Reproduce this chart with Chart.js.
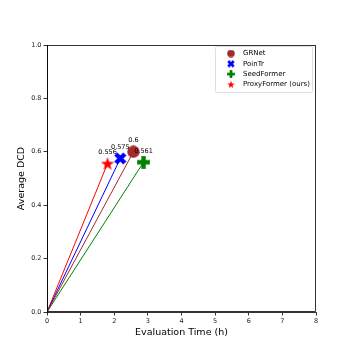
<!DOCTYPE html>
<html><head><meta charset="utf-8">
<script src="https://cdn.jsdelivr.net/npm/chart.js@4.4.0/dist/chart.umd.min.js"></script>
<style>html,body{margin:0;padding:0;background:#fff}#w{width:354px;height:354px}</style>
</head><body><div id="w"><canvas id="c" width="354" height="354"></canvas></div>
<script>
const methods = ["GRNet", "PoinTr", "SeedFormer", "ProxyFormer (ours)"];
const evalTime = [2.57, 2.18, 2.87, 1.80];
const avgDCD = [0.6, 0.575, 0.561, 0.556];
const valueLabels = ["0.6", "0.575", "0.561", "0.556"];
const colors = ["#a52a2a", "#0000ff", "#008000", "#ff0000"];
const markers = ["circle", "x", "plus", "star"];
const xTicks = [0,1,2,3,4,5,6,7,8];
const yTicks = [0.0,0.2,0.4,0.6,0.8,1.0];

function makeMarker(type, color, s) {
  const c = document.createElement('canvas');
  c.width = s; c.height = s;
  const g = c.getContext('2d');
  g.fillStyle = color;
  const h = s/2;
  g.translate(h, h);
  if (type === 'circle') {
    g.beginPath(); g.arc(0,0,h*0.95,0,Math.PI*2); g.fill();
  } else if (type === 'plus' || type === 'x') {
    if (type === 'x') g.rotate(Math.PI/4);
    const a = h*0.98, b = h*0.34;
    g.fillRect(-a,-b,2*a,2*b);
    g.fillRect(-b,-a,2*b,2*a);
  } else if (type === 'star') {
    g.beginPath();
    for (let i=0;i<10;i++){
      const r = i%2===0 ? h : h*0.4;
      const ang = -Math.PI/2 + i*Math.PI/5;
      const px = r*Math.cos(ang), py = r*Math.sin(ang)+h*0.08;
      i===0?g.moveTo(px,py):g.lineTo(px,py);
    }
    g.closePath(); g.fill();
  }
  return c;
}
const markerSizes = [13, 13, 13, 14];
const markerImgs = markers.map((m,i)=>makeMarker(m, colors[i], markerSizes[i]));
const legendImgs = markers.map((m,i)=>makeMarker(m, colors[i], 8));

const datasets = [];
methods.forEach((m,i)=>{
  datasets.push({
    type:'line', label:'_line'+i,
    data:[{x:0,y:0},{x:evalTime[i],y:avgDCD[i]}],
    borderColor:colors[i], borderWidth:1, pointRadius:0, fill:false, order:2
  });
});
methods.forEach((m,i)=>{
  datasets.push({
    type:'scatter', label:m,
    data:[{x:evalTime[i],y:avgDCD[i]}],
    pointStyle: markerImgs[i], backgroundColor:colors[i], borderColor:colors[i],
    pointRadius:6, order:1
  });
});

const deco = {
  id:'deco',
  afterDraw(chart){
    const g = chart.ctx, a = chart.chartArea;
    const xs = chart.scales.x, ys = chart.scales.y;
    g.save();
    g.strokeStyle='#000'; g.lineWidth=0.8;
    g.strokeRect(a.left+0.5, a.top+0.5, a.right-a.left-1, a.bottom-a.top-1);
    // value labels
    g.fillStyle='#000'; g.font='6.5px "DejaVu Sans"'; g.textAlign='center'; g.textBaseline='bottom';
    methods.forEach((m,i)=>{
      g.fillText(valueLabels[i], xs.getPixelForValue(evalTime[i]), ys.getPixelForValue(avgDCD[i])-8);
    });
    // legend
    const lx=215, ly=46, lw=97, lh=46;
    g.fillStyle='rgba(255,255,255,0.8)';
    g.beginPath(); g.roundRect(lx+0.5,ly+0.5,lw,lh,2); g.fill();
    g.strokeStyle='#d6d6d6'; g.lineWidth=0.8;
    g.stroke();
    g.textAlign='left'; g.textBaseline='middle'; g.fillStyle='#000';
    g.font='7px "DejaVu Sans"';
    methods.forEach((m,i)=>{
      const yy = ly+7.5+i*10.3;
      g.drawImage(legendImgs[i], 231-4, yy-4);
      g.fillText(m, 243, yy);
    });
    g.restore();
  }
};

new Chart(document.getElementById('c'), {
  data:{datasets},
  options:{
    responsive:false, animation:false, devicePixelRatio:1,
    layout:{padding:{left:16,right:38,top:45,bottom:16}},
    plugins:{legend:{display:false}, tooltip:{enabled:false}},
    scales:{
      x:{type:'linear', min:0, max:8,
        afterBuildTicks(s){ s.ticks = xTicks.map(v=>({value:v})); },
        afterFit(s){ s.height = 26; },
        grid:{display:true, drawOnChartArea:false, tickLength:3.5, color:'#000', lineWidth:0.8},
        border:{display:true,color:'#000',width:0.8},
        ticks:{color:'#222', font:{size:6.5, family:'DejaVu Sans'}, padding:2, maxRotation:0,
          callback:(v)=>String(v)},
        title:{display:true, text:'Evaluation Time (h)', color:'#000', font:{size:9.5, family:'DejaVu Sans'}, padding:{top:1,bottom:0}}
      },
      y:{type:'linear', min:0, max:1,
        afterBuildTicks(s){ s.ticks = yTicks.map(v=>({value:v})); },
        afterFit(s){ s.width = 31; },
        grid:{display:true, drawOnChartArea:false, tickLength:3.5, color:'#000', lineWidth:0.8},
        border:{display:true,color:'#000',width:0.8},
        ticks:{color:'#222', font:{size:6.5, family:'DejaVu Sans'}, padding:2,
          callback:(v)=>Number(v).toFixed(1)},
        title:{display:true, text:'Average DCD', color:'#000', font:{size:9.5, family:'DejaVu Sans'}, padding:{top:0,bottom:0}}
      }
    }
  },
  plugins:[deco]
});
</script></body></html>
